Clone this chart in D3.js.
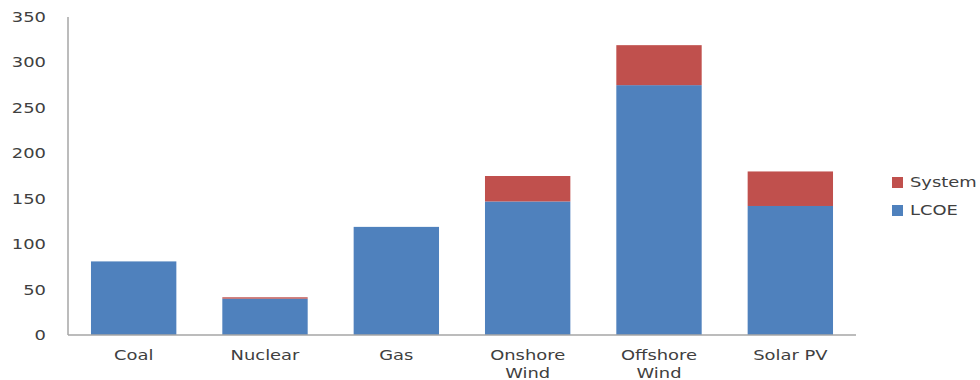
<!DOCTYPE html>
<html><head><meta charset="utf-8">
<script src="https://cdn.jsdelivr.net/npm/d3@7"></script>
<style>body{margin:0;background:#fff}svg{display:block}</style>
</head><body>
<svg id="c" width="980" height="380"></svg>
<script>
const categories = ["Coal","Nuclear","Gas","Onshore\nWind","Offshore\nWind","Solar PV"];
const lcoe   = [81, 40, 119, 147, 275, 142];
const system = [0, 1.5, 0, 28, 44, 38];
const yTicks = [0,50,100,150,200,250,300,350];
const seriesNames = ["LCOE","System"];
const colors = {LCOE:"#4F81BD", System:"#C0504D"};

(function(){
const svg = d3.select("#c");
const mLeft=68, mRight=856, mTop=17, mBottom=335;
const SX = 1.28, FS = 14, TXT="#404040";
const FONT = "DejaVu Sans, sans-serif";

const x = d3.scaleBand().domain(categories).range([mLeft,mRight]).paddingInner(0.35).paddingOuter(0.175);
const y = d3.scaleLinear().domain([0,350]).range([mBottom,mTop]);

const rows = categories.map((c,i)=>({cat:c, LCOE:lcoe[i], System:system[i]}));
const stacked = d3.stack().keys(seriesNames)(rows);

svg.append("g").selectAll("g").data(stacked).join("g")
  .attr("fill", d=>colors[d.key])
  .selectAll("rect").data(d=>d).join("rect")
  .attr("x", d=>x(d.data.cat))
  .attr("width", x.bandwidth())
  .attr("y", d=>y(d[1]))
  .attr("height", d=>y(d[0])-y(d[1]));

svg.append("line").attr("x1",mLeft).attr("x2",mLeft).attr("y1",mTop).attr("y2",mBottom)
  .attr("stroke","#A6A6A6").attr("stroke-width",1.5);
svg.append("line").attr("x1",mLeft).attr("x2",mRight).attr("y1",mBottom).attr("y2",mBottom)
  .attr("stroke","#A6A6A6").attr("stroke-width",1.5);

svg.append("g").selectAll("text").data(yTicks).join("text")
  .attr("transform", d=>`translate(${mLeft-22},${y(d)+5}) scale(${SX},1)`)
  .attr("text-anchor","end").attr("font-family",FONT).attr("font-size",FS).attr("fill",TXT)
  .text(d=>d);

const cl = svg.append("g").selectAll("text").data(categories).join("text")
  .attr("transform", d=>`translate(${x(d)+x.bandwidth()/2},${mBottom+25}) scale(${SX},1)`)
  .attr("text-anchor","middle").attr("font-family",FONT).attr("font-size",FS).attr("fill",TXT);
cl.selectAll("tspan").data(d=>d.split("\n")).join("tspan")
  .attr("x",0).attr("dy",(d,i)=>i===0?0:18).text(d=>d);

const legendItems = ["System","LCOE"];
const lg = svg.append("g").selectAll("g").data(legendItems).join("g")
  .attr("transform",(d,i)=>`translate(892,${177+i*28})`);
lg.append("rect").attr("width",11).attr("height",11).attr("fill",d=>colors[d]);
lg.append("text").attr("transform",`translate(18,10) scale(${SX},1)`)
  .attr("font-family",FONT).attr("font-size",FS).attr("fill",TXT).text(d=>d);
})();
</script>
</body></html>
